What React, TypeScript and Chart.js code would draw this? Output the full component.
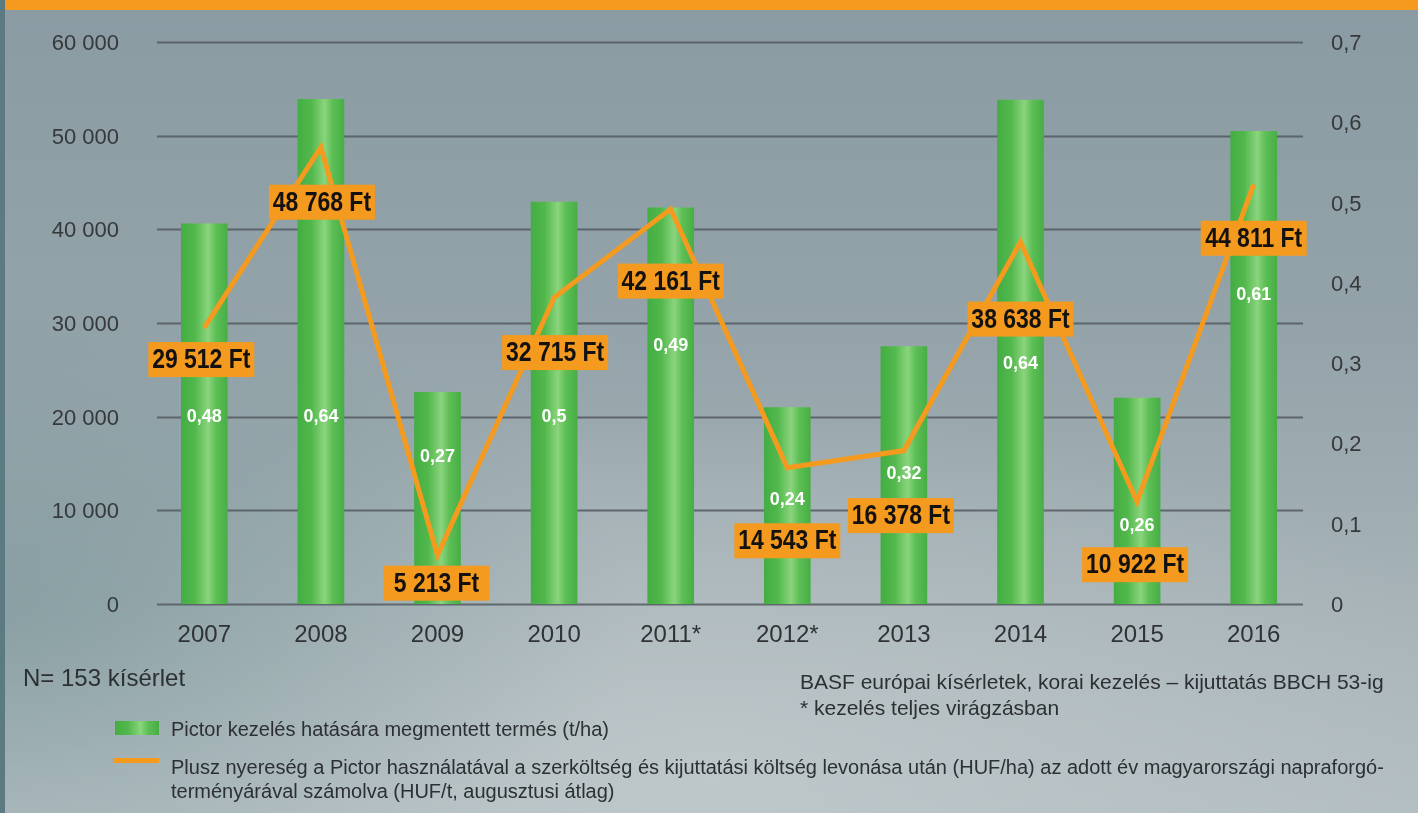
import React, { useEffect, useRef } from "react";
import { Chart, registerables } from "chart.js";

Chart.register(...registerables);

// ---------- data ----------
const years = ["2007", "2008", "2009", "2010", "2011*", "2012*", "2013", "2014", "2015", "2016"];
// saved yield (t/ha) – bar heights (right axis)
const savedYield = [0.474, 0.629, 0.264, 0.501, 0.494, 0.245, 0.321, 0.628, 0.257, 0.589];
// printed bar labels
const savedYieldLabels = ["0,48", "0,64", "0,27", "0,5", "0,49", "0,24", "0,32", "0,64", "0,26", "0,61"];
// extra profit (HUF/ha) – line (left axis)
const extraProfit = [29512, 48768, 5213, 32715, 42161, 14543, 16378, 38638, 10922, 44811];
const extraProfitLabels = [
  "29 512 Ft", "48 768 Ft", "5 213 Ft", "32 715 Ft", "42 161 Ft",
  "14 543 Ft", "16 378 Ft", "38 638 Ft", "10 922 Ft", "44 811 Ft",
];
const rightTickLabels = ["0", "0,1", "0,2", "0,3", "0,4", "0,5", "0,6", "0,7"];

// ---------- label placement (style) ----------
const profitLabelDx = [-3, 1, -1, 1, 0, 0, -3, 0, -2, 0];
const profitLabelDy = [32, 55, 28, 55, 72, 73, 65, 77, 63, 54];
// vertical position of the white bar labels, in left-axis units
const yieldLabelAt = [20000, 20000, 15700, 20000, 27500, 11100, 13900, 25600, 8300, 33000];

const FONT = '"Liberation Sans", Arial, Helvetica, sans-serif';
const ORANGE = "#f49a1f";

function fmtThousands(v: number) {
  return String(Math.round(v)).replace(/\B(?=(\d{3})+(?!\d))/g, " ");
}

const overlayPlugin = {
  id: "overlay",
  beforeDatasetsDraw(chart: any) {
    const { ctx, chartArea } = chart;
    const ys = chart.scales.y;
    ctx.save();
    ctx.strokeStyle = "rgba(84,91,96,0.85)";
    ctx.lineWidth = 2;
    for (let v = 0; v <= 60000; v += 10000) {
      const y = Math.round(ys.getPixelForValue(v)) + 0.5;
      ctx.beginPath();
      ctx.moveTo(chartArea.left + 11, y);
      ctx.lineTo(chartArea.right - 9, y);
      ctx.stroke();
    }
    ctx.restore();
  },
  afterDatasetsDraw(chart: any) {
    const { ctx } = chart;
    const ys = chart.scales.y;
    const barMeta = chart.getDatasetMeta(0);
    const lineMeta = chart.getDatasetMeta(1);
    ctx.save();
    // white labels in bars
    ctx.fillStyle = "#ffffff";
    ctx.font = `bold 18px ${FONT}`;
    ctx.textAlign = "center";
    ctx.textBaseline = "middle";
    barMeta.data.forEach((bar: any, i: number) => {
      ctx.fillText(savedYieldLabels[i], bar.x, ys.getPixelForValue(yieldLabelAt[i]));
    });
    // orange boxes
    lineMeta.data.forEach((pt: any, i: number) => {
      const cx = pt.x + profitLabelDx[i];
      const cy = pt.y + profitLabelDy[i];
      ctx.fillStyle = ORANGE;
      ctx.fillRect(cx - 53, cy - 17.5, 106, 35);
      ctx.save();
      ctx.translate(cx, cy + 1);
      ctx.scale(0.82, 1);
      ctx.fillStyle = "#141210";
      ctx.font = `bold 28px ${FONT}`;
      ctx.textAlign = "center";
      ctx.textBaseline = "middle";
      ctx.fillText(extraProfitLabels[i], 0, 0);
      ctx.restore();
    });
    ctx.restore();
  },
};

function barGradient(c: any) {
  const chart = c.chart;
  const xs = chart.scales && chart.scales.x;
  if (!xs || c.dataIndex === undefined || !chart.chartArea) return "#4db848";
  const cx = xs.getPixelForValue(c.dataIndex);
  const w = (xs.width / years.length) * 0.4;
  const g = chart.ctx.createLinearGradient(cx - w / 2, 0, cx + w / 2, 0);
  g.addColorStop(0, "#43ad43");
  g.addColorStop(0.3, "#52b84c");
  g.addColorStop(0.58, "#8bd47e");
  g.addColorStop(0.75, "#5dbf55");
  g.addColorStop(1, "#46ae45");
  return g;
}

export default function App() {
  const canvasRef = useRef<HTMLCanvasElement | null>(null);

  useEffect(() => {
    if (!canvasRef.current) return;
    const chart = new Chart(canvasRef.current, {
      type: "bar",
      data: {
        labels: years,
        datasets: [
          {
            type: "bar",
            label: "Pictor kezelés hatására megmentett termés (t/ha)",
            data: savedYield,
            yAxisID: "y1",
            backgroundColor: barGradient as any,
            borderWidth: 0,
            barPercentage: 0.4,
            categoryPercentage: 1.0,
            order: 1,
          },
          {
            type: "line",
            label: "Plusz nyereség (HUF/ha)",
            data: extraProfit,
            yAxisID: "y",
            borderColor: ORANGE,
            borderWidth: 5,
            pointRadius: 0,
            tension: 0,
            borderJoinStyle: "miter",
            fill: false,
            order: 0,
          } as any,
        ],
      },
      options: {
        animation: false,
        responsive: true,
        maintainAspectRatio: false,
        layout: { padding: { top: 42, left: 0, right: 0, bottom: 0 } },
        plugins: {
          legend: { display: false },
          tooltip: { enabled: false },
        },
        scales: {
          x: {
            type: "category",
            grid: { display: false, drawTicks: false },
            border: { display: false },
            ticks: {
              color: "#303335",
              font: { family: FONT, size: 24 },
              padding: 17,
              maxRotation: 0,
            },
            afterFit(scale: any) {
              scale.height = 209;
            },
          },
          y: {
            position: "left",
            min: 0,
            max: 60000,
            grid: { display: false, drawTicks: false },
            border: { display: false },
            ticks: {
              stepSize: 10000,
              color: "#36393c",
              font: { family: FONT, size: 22 },
              padding: 27,
              labelOffset: 2,
              callback: (v: any) => fmtThousands(Number(v)),
            },
            afterFit(scale: any) {
              scale.width = 146;
            },
          },
          y1: {
            position: "right",
            min: 0,
            max: 0.7,
            grid: { display: false, drawTicks: false },
            border: { display: false },
            ticks: {
              stepSize: 0.1,
              color: "#36393c",
              font: { family: FONT, size: 22 },
              padding: 19,
              labelOffset: 2,
              callback: (_v: any, i: number) => rightTickLabels[i],
            },
            afterFit(scale: any) {
              scale.width = 106;
            },
          },
        },
      },
      plugins: [overlayPlugin],
    } as any);
    return () => chart.destroy();
  }, []);

  const textStyle = (left: number, top: number, size: number): React.CSSProperties => ({
    position: "absolute",
    left,
    top,
    fontFamily: FONT,
    fontSize: size,
    lineHeight: `${size}px`,
    color: "#2c3033",
    whiteSpace: "nowrap",
  });

  return (
    <div
      style={{
        position: "absolute",
        left: 0,
        top: 0,
        width: 1418,
        height: 813,
        overflow: "hidden",
        background:
          "radial-gradient(ellipse 45% 40% at 0% 75%, rgba(100,135,138,0.45), rgba(100,135,138,0) 100%)," +
          "radial-gradient(ellipse 60% 45% at 50% 95%, rgba(200,208,210,0.55), rgba(200,208,210,0) 100%)," +
          "linear-gradient(180deg, #8b9ba3 0%, #93a3a9 40%, #a9b5b9 80%, #b2bdc1 100%)",
      }}
    >
      <div style={{ position: "absolute", left: 0, top: 0, width: 5, height: 813, background: "#5b7a82" }} />
      <div style={{ position: "absolute", left: 5, top: 0, width: 1413, height: 10, background: "#f59a1c" }} />
      <div style={{ position: "absolute", left: 0, top: 0, width: 1418, height: 813 }}>
        <canvas ref={canvasRef} />
      </div>
      <div style={textStyle(23, 666, 24)}>N= 153 kísérlet</div>
      <div style={textStyle(800, 671, 21)}>BASF európai kísérletek, korai kezelés – kijuttatás BBCH 53-ig</div>
      <div style={textStyle(800, 697, 21)}>* kezelés teljes virágzásban</div>
      <div
        style={{
          position: "absolute",
          left: 115,
          top: 721,
          width: 44,
          height: 14,
          background: "linear-gradient(90deg, #43ad43 0%, #52b84c 30%, #8bd47e 58%, #5dbf55 75%, #46ae45 100%)",
        }}
      />
      <div style={textStyle(171, 719, 20)}>Pictor kezelés hatására megmentett termés (t/ha)</div>
      <div style={{ position: "absolute", left: 113, top: 758, width: 46, height: 5, background: "#f59a1c" }} />
      <div style={textStyle(171, 757, 20)}>
        Plusz nyereség a Pictor használatával a szerköltség és kijuttatási költség levonása után (HUF/ha) az adott év magyarországi napraforgó-
      </div>
      <div style={textStyle(171, 781, 20)}>terményárával számolva (HUF/t, augusztusi átlag)</div>
    </div>
  );
}
